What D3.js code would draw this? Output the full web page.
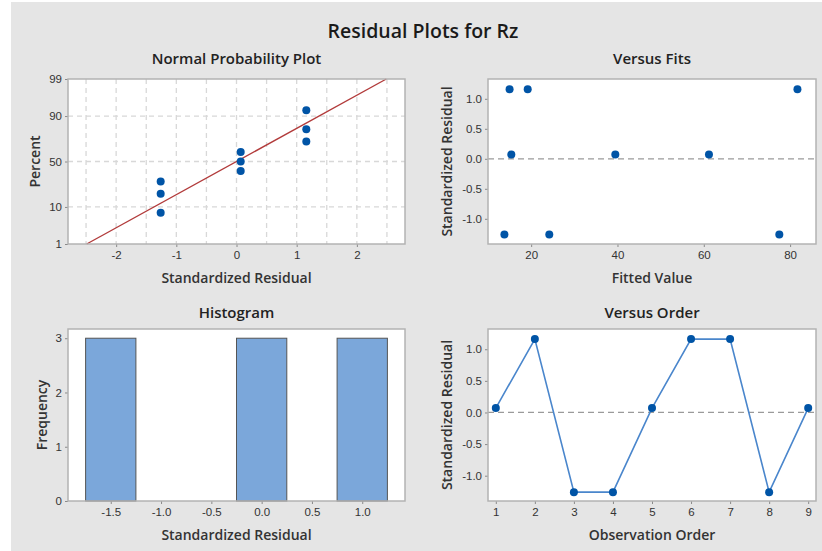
<!DOCTYPE html>
<html>
<head>
<meta charset="utf-8">
<script src="https://cdn.jsdelivr.net/npm/d3@7"></script>
<style>
  html, body { margin: 0; padding: 0; background: #fff; }
  svg { display: block; font-family: "Open Sans", "Noto Sans", sans-serif; }
  .tick text { font-size: 11.5px; fill: #333; }
  .tick line { stroke: #8a8a8a; }
  .ptitle { font-size: 15px; font-weight: 600; fill: #222; }
  .alabel { font-size: 14px; font-weight: 600; fill: #333; }
</style>
</head>
<body>
<div id="chart"></div>
<script>
/* Residual plots for Rz — four panel layout */

// residuals in observation order
const OBS      = [1, 2, 3, 4, 5, 6, 7, 8, 9];
const RESID    = [0.07, 1.16, -1.26, -1.26, 0.07, 1.16, 1.16, -1.26, 0.07];
const FITS     = [15.4, 15.0, 13.8, 24.2, 39.5, 19.2, 81.7, 77.5, 61.2];

// normal probability plot positions (percent), for sorted residuals
const NPP_PCT  = [7.4, 18.1, 28.7, 39.4, 50, 60.6, 71.3, 81.9, 92.6];
const FIT_MEAN = 0;
const FIT_SD   = 1.07;
const PCT_TICKS = [1, 10, 50, 90, 99];
const PCT_GRID  = [10, 50, 90];

// histogram
const BIN_MIDS   = [-1.5, -1.0, -0.5, 0.0, 0.5, 1.0];
const BIN_COUNTS = [3, 0, 0, 3, 0, 3];
const BIN_W = 0.5;

const W = 822, H = 551;
const svg = d3.select("#chart").append("svg").attr("width", W).attr("height", H);

svg.append("rect").attr("x", 11).attr("y", 2).attr("width", W - 11).attr("height", H - 2)
  .attr("fill", "#e5e5e5");

svg.append("text")
  .attr("x", 423).attr("y", 38)
  .attr("text-anchor", "middle")
  .style("font-size", "19.5px").style("font-weight", "600").style("fill", "#1a1a1a")
  .text("Residual Plots for Rz");

// inverse normal cdf (Acklam) — used only to place the probability axis
function probit(p) {
  const a = [-39.69683028665376, 220.9460984245205, -275.9285104469687, 138.3577518672690, -30.66479806614716, 2.506628277459239];
  const b = [-54.47609879822406, 161.5858368580409, -155.6989798598866, 66.80131188771972, -13.28068155288572];
  const c = [-0.007784894002430293, -0.3223964580411365, -2.400758277161838, -2.549732539343734, 4.374664141464968, 2.938163982698783];
  const d = [0.007784695709041462, 0.3224671290700398, 2.445134137142996, 3.754408661907416];
  const pl = 0.02425;
  let q, r;
  if (p < pl) {
    q = Math.sqrt(-2 * Math.log(p));
    return (((((c[0]*q+c[1])*q+c[2])*q+c[3])*q+c[4])*q+c[5]) / ((((d[0]*q+d[1])*q+d[2])*q+d[3])*q+1);
  } else if (p <= 1 - pl) {
    q = p - 0.5; r = q * q;
    return (((((a[0]*r+a[1])*r+a[2])*r+a[3])*r+a[4])*r+a[5])*q / (((((b[0]*r+b[1])*r+b[2])*r+b[3])*r+b[4])*r+1);
  }
  q = Math.sqrt(-2 * Math.log(1 - p));
  return -(((((c[0]*q+c[1])*q+c[2])*q+c[3])*q+c[4])*q+c[5]) / ((((d[0]*q+d[1])*q+d[2])*q+d[3])*q+1);
}

function panel(box, title, xLab, yLab, yLabX) {
  const g = svg.append("g");
  g.append("rect")
    .attr("x", box.l).attr("y", box.t)
    .attr("width", box.r - box.l).attr("height", box.b - box.t)
    .attr("fill", "#fff");
  g.append("text").attr("class", "ptitle")
    .attr("x", (box.l + box.r) / 2).attr("y", box.t - box.titleGap)
    .attr("text-anchor", "middle").text(title);
  g.append("text").attr("class", "alabel")
    .attr("x", (box.l + box.r) / 2).attr("y", box.b + box.xLabGap)
    .attr("text-anchor", "middle").text(xLab);
  g.append("text").attr("class", "alabel")
    .attr("text-anchor", "middle")
    .attr("transform", `translate(${yLabX},${(box.t + box.b) / 2}) rotate(-90)`)
    .text(yLab);
  return g;
}

function frame(g, box) {
  g.append("rect")
    .attr("x", box.l).attr("y", box.t)
    .attr("width", box.r - box.l).attr("height", box.b - box.t)
    .attr("fill", "none").attr("stroke", "#b3b3b3").attr("stroke-width", 1.5);
}

function axes(g, box, x, y, xTicks, yTicks, xFmt, yFmt) {
  const xa = g.append("g").attr("transform", `translate(0,${box.b})`)
    .call(d3.axisBottom(x).tickValues(xTicks).tickSize(3).tickPadding(4).tickFormat(xFmt));
  const ya = g.append("g").attr("transform", `translate(${box.l},0)`)
    .call(d3.axisLeft(y).tickValues(yTicks).tickSize(3).tickPadding(3).tickFormat(yFmt));
  xa.select(".domain").remove();
  ya.select(".domain").remove();
}

const f1 = d => d.toFixed(1);
const f0 = d => String(d);

// ---- Normal probability plot
(function() {
  const box = { l: 68, r: 405, t: 79, b: 244, titleGap: 15, xLabGap: 39 };
  const g = panel(box, "Normal Probability Plot", "Standardized Residual", "Percent", 40);
  const x = d3.scaleLinear().domain([-2.8, 2.8]).range([box.l, box.r]);
  const z = d3.scaleLinear().domain([probit(0.01), probit(0.99)]).range([box.b, box.t]);
  const y = p => z(probit(p / 100));

  const grid = g.append("g").attr("stroke", "#d8d8d8").attr("stroke-width", 1.3)
    .attr("stroke-dasharray", "5,4");
  grid.selectAll(".gv").data(d3.range(-2.5, 2.51, 0.5)).enter().append("line")
    .attr("x1", d => x(d)).attr("x2", d => x(d)).attr("y1", box.t).attr("y2", box.b);
  grid.selectAll(".gh").data(PCT_GRID).enter().append("line")
    .attr("x1", box.l).attr("x2", box.r).attr("y1", d => y(d)).attr("y2", d => y(d));

  const xa = g.append("g").attr("transform", `translate(0,${box.b})`)
    .call(d3.axisBottom(x).tickValues([-2, -1, 0, 1, 2]).tickSize(3).tickPadding(4).tickFormat(f0));
  xa.select(".domain").remove();
  // probability axis ticks
  const ya = g.append("g").attr("transform", `translate(${box.l},0)`)
    .call(d3.axisLeft(z)
      .tickValues(PCT_TICKS.map(p => probit(p / 100)))
      .tickSize(3).tickPadding(3)
      .tickFormat((d, i) => PCT_TICKS[i]));
  ya.select(".domain").remove();

  g.append("line")
    .attr("x1", x(FIT_MEAN + FIT_SD * probit(0.01))).attr("y1", y(1))
    .attr("x2", x(FIT_MEAN + FIT_SD * probit(0.99))).attr("y2", y(99))
    .attr("stroke", "#b23b3b").attr("stroke-width", 1.4);

  const sorted = RESID.slice().sort(d3.ascending);
  g.selectAll(".pt").data(sorted).enter().append("circle")
    .attr("cx", d => x(d)).attr("cy", (d, i) => y(NPP_PCT[i]))
    .attr("r", 4).attr("fill", "#0054a6");
  frame(g, box);
})();

// ---- Versus fits
(function() {
  const box = { l: 488, r: 816, t: 79, b: 244, titleGap: 15, xLabGap: 39 };
  const g = panel(box, "Versus Fits", "Fitted Value", "Standardized Residual", 452);
  const x = d3.scaleLinear().domain([10, 86]).range([box.l, box.r]);
  const y = d3.scaleLinear().domain([-1.42, 1.33]).range([box.b, box.t]);
  axes(g, box, x, y, [20, 40, 60, 80], [-1.0, -0.5, 0, 0.5, 1.0], f0, f1);
  g.append("line").attr("x1", box.l).attr("x2", box.r).attr("y1", y(0)).attr("y2", y(0))
    .attr("stroke", "#9a9a9a").attr("stroke-width", 1.2).attr("stroke-dasharray", "6,4");
  g.selectAll(".pt").data(OBS).enter().append("circle")
    .attr("cx", (d, i) => x(FITS[i])).attr("cy", (d, i) => y(RESID[i]))
    .attr("r", 4).attr("fill", "#0054a6");
  frame(g, box);
})();

// ---- Histogram
(function() {
  const box = { l: 68, r: 405, t: 329, b: 501, titleGap: 11, xLabGap: 39 };
  const g = panel(box, "Histogram", "Standardized Residual", "Frequency", 46.5);
  const x = d3.scaleLinear().domain([-1.925, 1.425]).range([box.l, box.r]);
  const y = d3.scaleLinear().domain([0, 3.17]).range([box.b, box.t]);
  axes(g, box, x, y, BIN_MIDS, [0, 1, 2, 3], f1, f0);
  g.selectAll(".bar").data(BIN_MIDS.filter((d, i) => BIN_COUNTS[i] > 0)).enter().append("rect")
    .attr("x", d => x(d - BIN_W / 2))
    .attr("width", d => x(d + BIN_W / 2) - x(d - BIN_W / 2))
    .attr("y", d => y(BIN_COUNTS[BIN_MIDS.indexOf(d)]))
    .attr("height", d => box.b - y(BIN_COUNTS[BIN_MIDS.indexOf(d)]))
    .attr("fill", "#7ba7da").attr("stroke", "#555").attr("stroke-width", 1);
  frame(g, box);
})();

// ---- Versus order
(function() {
  const box = { l: 488, r: 816, t: 329, b: 501, titleGap: 11, xLabGap: 39 };
  const g = panel(box, "Versus Order", "Observation Order", "Standardized Residual", 452);
  const x = d3.scaleLinear().domain([0.8, 9.2]).range([box.l, box.r]);
  const y = d3.scaleLinear().domain([-1.40, 1.32]).range([box.b, box.t]);
  axes(g, box, x, y, OBS, [-1.0, -0.5, 0, 0.5, 1.0], f0, f1);
  g.append("line").attr("x1", box.l).attr("x2", box.r).attr("y1", y(0)).attr("y2", y(0))
    .attr("stroke", "#9a9a9a").attr("stroke-width", 1.2).attr("stroke-dasharray", "6,4");
  const line = d3.line().x((d, i) => x(OBS[i])).y(d => y(d));
  g.append("path").datum(RESID).attr("d", line)
    .attr("fill", "none").attr("stroke", "#4a86cc").attr("stroke-width", 1.6);
  g.selectAll(".pt").data(OBS).enter().append("circle")
    .attr("cx", d => x(d)).attr("cy", (d, i) => y(RESID[i]))
    .attr("r", 4).attr("fill", "#0054a6");
  frame(g, box);
})();
</script>
</body>
</html>
